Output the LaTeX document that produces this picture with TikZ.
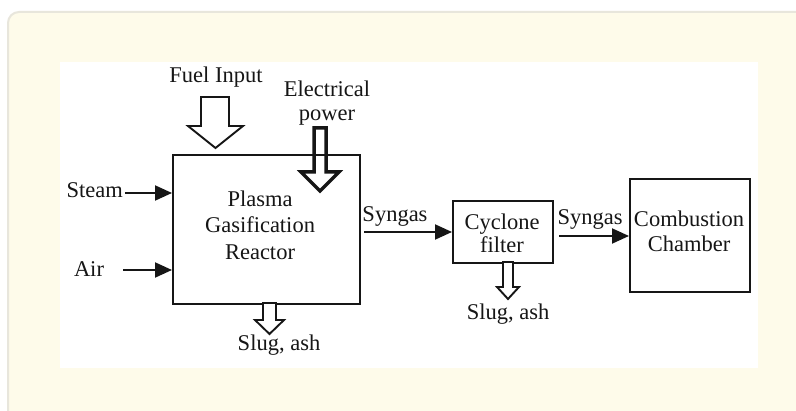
\documentclass[tikz,border=0pt]{standalone}
\usepackage{fontspec}
\setmainfont{Liberation Serif}
\usetikzlibrary{arrows.meta}
\definecolor{panel}{HTML}{FEFBEA}
\definecolor{panelborder}{HTML}{E8E6DC}
\definecolor{ink}{HTML}{161616}
\begin{document}
\begin{tikzpicture}[x=1pt,y=-1pt,
  lbl/.style={font=\fontsize{22.5}{26.5}\selectfont, text=ink, inner sep=0pt, anchor=base},
  blockbox/.style={draw=ink, line width=2.2pt, inner sep=0pt, anchor=north west},
  flow/.style={draw=ink, line width=2pt, -{Triangle[length=17pt,width=15pt]}},
  hollow/.style={draw=ink, line width=1.9pt, fill=white, line join=miter},
  power/.style={draw=ink, line width=3.5pt, line join=miter}
]
% page and panel
\useasboundingbox (0,0) rectangle (796,411);
\fill[white] (0,0) rectangle (796,411);
\clip (0,0) rectangle (796,411);
\filldraw[fill=panel, draw=panelborder, line width=2pt, rounded corners=11pt]
  (8,12) rectangle (830,450);
\fill[white] (60,62) rectangle (758,368);

% boxes
\node[blockbox, minimum width=187pt, minimum height=149pt] (reactor) at (172,154) {};
\node[blockbox, minimum width=100pt, minimum height=62pt] (cyclone) at (452,200) {};
\node[blockbox, minimum width=120pt, minimum height=113pt] (chamber) at (629,178) {};

% box texts
\node[lbl] (r1) at (260,207) {Plasma};
\node[lbl] (r2) at (260,233) {Gasification};
\node[lbl] (r3) at (260,260) {Reactor};
\node[lbl] (c1) at (502,230) {Cyclone};
\node[lbl] (c2) at (502,253) {filter};
\node[lbl] (h1) at (689,227) {Combustion};
\node[lbl] (h2) at (689,252) {Chamber};

% labels
\node[lbl] (fuel) at (216,83) {Fuel Input};
\node[lbl] (elec1) at (327,97) {Electrical};
\node[lbl] (elec2) at (327,121) {power};
\node[lbl, anchor=base east] (steam) at (123,198) {Steam};
\node[lbl] (air) at (89,277) {Air};
\node[lbl] (slug1) at (279,351) {Slug, ash};
\node[lbl] (syn1) at (395,222) {Syngas};
\node[lbl] (syn2) at (590,225) {Syngas};
\node[lbl] (slug2) at (508,320) {Slug, ash};

% small arrows
\coordinate (steamS) at (125,193);
\coordinate (airS) at (123,270);
\coordinate (syn1S) at (364,232);
\coordinate (syn2S) at (559,236);
\draw[flow] (steamS) -- (steamS -| reactor.west);
\draw[flow] (airS) -- (airS -| reactor.west);
\draw[flow] (syn1S) -- (syn1S -| cyclone.west);
\draw[flow] (syn2S) -- (syn2S -| chamber.west);

% hollow block arrows
\draw[hollow] (201,97) -- (229,97) -- (229,126) -- (243,126) -- (215.5,148)
  -- (188,126) -- (201,126) -- cycle;
\draw[hollow] (263,303) -- (276,303) -- (276,320) -- (284,320) -- (269.5,334)
  -- (255,320) -- (263,320) -- cycle;
\draw[hollow] (503,262) -- (513,262) -- (513,287) -- (519,287) -- (508,299)
  -- (497,287) -- (503,287) -- cycle;
% electrical power arrow (outline only)
\draw[power] (314,128) -- (326,128) -- (326,172) -- (339,172) -- (320,191)
  -- (301,172) -- (314,172) -- cycle;
\end{tikzpicture}
\end{document}
